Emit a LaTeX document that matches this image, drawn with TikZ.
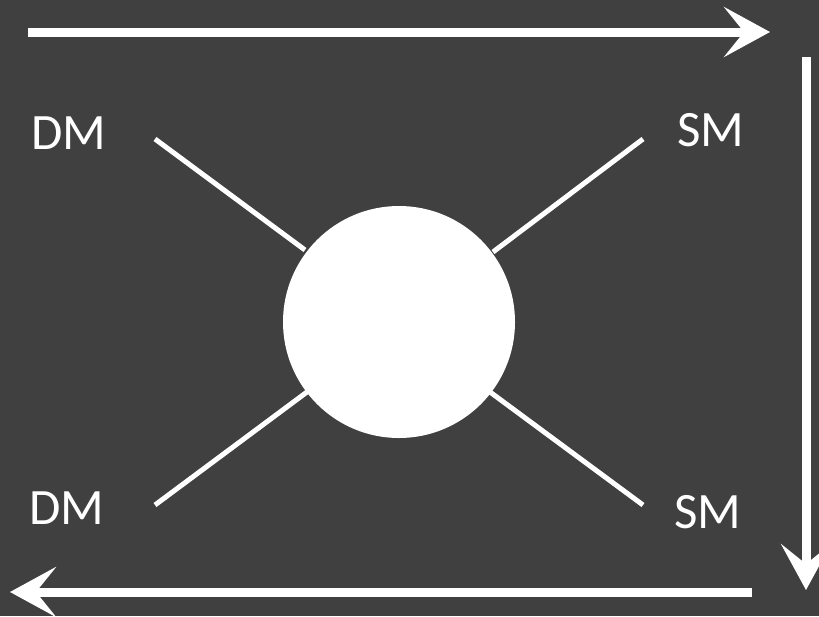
\documentclass[tikz,border=0pt]{standalone}
\usepackage{fontspec}
\setmainfont{Carlito}
\usetikzlibrary{arrows.meta}
\definecolor{bg}{HTML}{404040}
\begin{document}
\begin{tikzpicture}[x=1pt,y=-1pt,
  flow/.style={draw=white,line width=9pt,-{Stealth[length=46pt,width=50pt,inset=20pt]}},
  leg/.style={draw=white,line width=5pt},
  lbl/.style={text=white,font=\fontsize{51}{57}\selectfont,inner sep=0pt}]
\fill[bg] (0,0) rectangle (819,616);
\useasboundingbox (0,0) rectangle (819,616);
\node[circle,fill=white,minimum size=232pt,inner sep=0pt] (c) at (399,322) {};
\coordinate (tl) at (155,139);
\coordinate (tr) at (643,139);
\coordinate (bl) at (155,505);
\coordinate (br) at (643,505);
\draw[leg] (tl) -- (305,250);
\draw[leg] (tr) -- (493,252);
\draw[leg] (bl) -- (307,392);
\draw[leg] (br) -- (490,392);
\node[lbl] (dm1) at (69,133) {DM};
\node[lbl] (sm1) at (711,130) {SM};
\node[lbl] (dm2) at (67,508) {DM};
\node[lbl] (sm2) at (708,512) {SM};
\coordinate (a1) at (28,32);
\coordinate (a2) at (770,32);
\coordinate (b1) at (806,57);
\coordinate (b2) at (806,590);
\coordinate (c1) at (752,592);
\coordinate (c2) at (10,592);
\draw[flow] (a1) -- (a2);
\draw[flow] (b1) -- (b2);
\draw[flow] (c1) -- (c2);
\end{tikzpicture}
\end{document}
